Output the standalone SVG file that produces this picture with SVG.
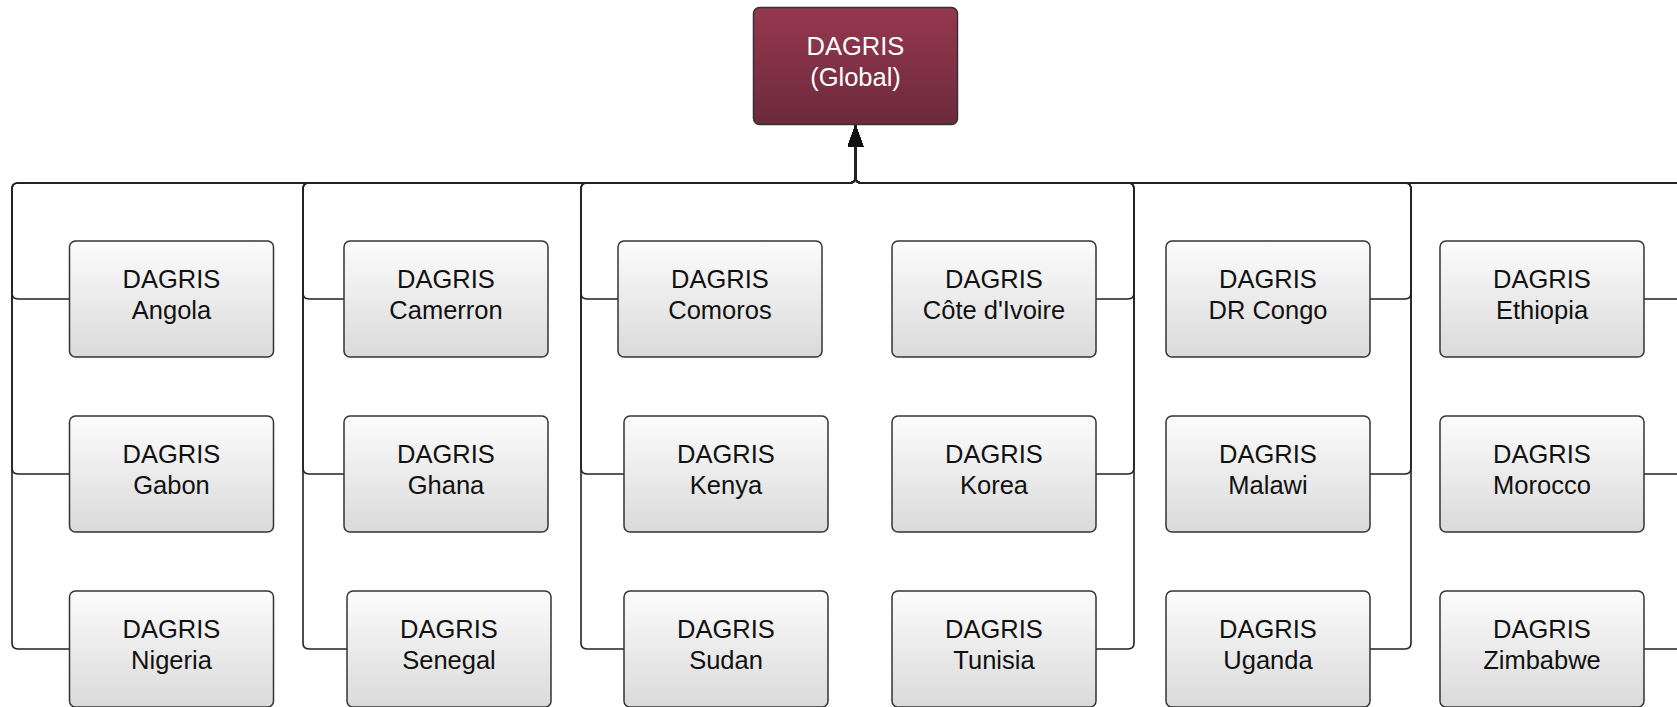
<svg xmlns="http://www.w3.org/2000/svg" width="1677" height="707" viewBox="0 0 1677 707">
<style>
.box{fill:url(#g);stroke:#333;stroke-width:1.5}
.root{fill:url(#r);stroke:#333;stroke-width:1.5}
.t{font-family:"Liberation Sans",Arial,sans-serif;font-size:25.5px;fill:#111;text-anchor:middle}
.w{fill:#fff}
.c{fill:none;stroke:#222;stroke-width:1.6;marker-end:url(#a)}
</style>
<defs>
<linearGradient id="g" x1="0" y1="0" x2="0" y2="1"><stop offset="0" stop-color="#fcfcfc"/><stop offset="1" stop-color="#dadada"/></linearGradient>
<linearGradient id="r" x1="0" y1="0" x2="0" y2="1"><stop offset="0" stop-color="#96384f"/><stop offset="1" stop-color="#6c2a3b"/></linearGradient>
<marker id="a" viewBox="0 0 22 16" refX="22" refY="8" markerWidth="22" markerHeight="16" markerUnits="userSpaceOnUse" orient="auto"><path d="M0,0L22,8L0,16z" fill="#111"/></marker>
</defs>
<g id="connectors">
<path class="c" d="M69.5 299H18Q12 299 12 293V189Q12 183 18 183H849.5Q855.5 183 855.5 177V125"/>
<path class="c" d="M69.5 474H18Q12 474 12 468V189Q12 183 18 183H849.5Q855.5 183 855.5 177V125"/>
<path class="c" d="M69.5 649H18Q12 649 12 643V189Q12 183 18 183H849.5Q855.5 183 855.5 177V125"/>
<path class="c" d="M344 299H309Q303 299 303 293V189Q303 183 309 183H849.5Q855.5 183 855.5 177V125"/>
<path class="c" d="M344 474H309Q303 474 303 468V189Q303 183 309 183H849.5Q855.5 183 855.5 177V125"/>
<path class="c" d="M347 649H309Q303 649 303 643V189Q303 183 309 183H849.5Q855.5 183 855.5 177V125"/>
<path class="c" d="M618 299H587Q581 299 581 293V189Q581 183 587 183H849.5Q855.5 183 855.5 177V125"/>
<path class="c" d="M624 474H587Q581 474 581 468V189Q581 183 587 183H849.5Q855.5 183 855.5 177V125"/>
<path class="c" d="M624 649H587Q581 649 581 643V189Q581 183 587 183H849.5Q855.5 183 855.5 177V125"/>
<path class="c" d="M1096 299H1128Q1134 299 1134 293V189Q1134 183 1128 183H861.5Q855.5 183 855.5 177V125"/>
<path class="c" d="M1096 474H1128Q1134 474 1134 468V189Q1134 183 1128 183H861.5Q855.5 183 855.5 177V125"/>
<path class="c" d="M1096 649H1128Q1134 649 1134 643V189Q1134 183 1128 183H861.5Q855.5 183 855.5 177V125"/>
<path class="c" d="M1370 299H1405Q1411 299 1411 293V189Q1411 183 1405 183H861.5Q855.5 183 855.5 177V125"/>
<path class="c" d="M1370 474H1405Q1411 474 1411 468V189Q1411 183 1405 183H861.5Q855.5 183 855.5 177V125"/>
<path class="c" d="M1370 649H1405Q1411 649 1411 643V189Q1411 183 1405 183H861.5Q855.5 183 855.5 177V125"/>
<path class="c" d="M1644 299H1694Q1700 299 1700 293V189Q1700 183 1694 183H861.5Q855.5 183 855.5 177V125"/>
<path class="c" d="M1644 474H1694Q1700 474 1700 468V189Q1700 183 1694 183H861.5Q855.5 183 855.5 177V125"/>
<path class="c" d="M1644 649H1694Q1700 649 1700 643V189Q1700 183 1694 183H861.5Q855.5 183 855.5 177V125"/>
</g>
<g id="global"><rect class="root" x="753.5" y="7.5" width="204" height="117" rx="6"/><text class="t w" x="855.5" y="54.5">DAGRIS</text><text class="t w" x="855.5" y="86">(Global)</text></g>
<g id="angola"><rect class="box" x="69.5" y="241" width="204" height="116" rx="6"/><text class="t" x="171.5" y="288.3">DAGRIS</text><text class="t" x="171.5" y="319">Angola</text></g>
<g id="gabon"><rect class="box" x="69.5" y="416" width="204" height="116" rx="6"/><text class="t" x="171.5" y="463.3">DAGRIS</text><text class="t" x="171.5" y="494">Gabon</text></g>
<g id="nigeria"><rect class="box" x="69.5" y="591" width="204" height="116" rx="6"/><text class="t" x="171.5" y="638.3">DAGRIS</text><text class="t" x="171.5" y="669">Nigeria</text></g>
<g id="camerron"><rect class="box" x="344" y="241" width="204" height="116" rx="6"/><text class="t" x="446" y="288.3">DAGRIS</text><text class="t" x="446" y="319">Camerron</text></g>
<g id="ghana"><rect class="box" x="344" y="416" width="204" height="116" rx="6"/><text class="t" x="446" y="463.3">DAGRIS</text><text class="t" x="446" y="494">Ghana</text></g>
<g id="senegal"><rect class="box" x="347" y="591" width="204" height="116" rx="6"/><text class="t" x="449" y="638.3">DAGRIS</text><text class="t" x="449" y="669">Senegal</text></g>
<g id="comoros"><rect class="box" x="618" y="241" width="204" height="116" rx="6"/><text class="t" x="720" y="288.3">DAGRIS</text><text class="t" x="720" y="319">Comoros</text></g>
<g id="kenya"><rect class="box" x="624" y="416" width="204" height="116" rx="6"/><text class="t" x="726" y="463.3">DAGRIS</text><text class="t" x="726" y="494">Kenya</text></g>
<g id="sudan"><rect class="box" x="624" y="591" width="204" height="116" rx="6"/><text class="t" x="726" y="638.3">DAGRIS</text><text class="t" x="726" y="669">Sudan</text></g>
<g id="cote-divoire"><rect class="box" x="892" y="241" width="204" height="116" rx="6"/><text class="t" x="994" y="288.3">DAGRIS</text><text class="t" x="994" y="319">Côte d'Ivoire</text></g>
<g id="korea"><rect class="box" x="892" y="416" width="204" height="116" rx="6"/><text class="t" x="994" y="463.3">DAGRIS</text><text class="t" x="994" y="494">Korea</text></g>
<g id="tunisia"><rect class="box" x="892" y="591" width="204" height="116" rx="6"/><text class="t" x="994" y="638.3">DAGRIS</text><text class="t" x="994" y="669">Tunisia</text></g>
<g id="dr-congo"><rect class="box" x="1166" y="241" width="204" height="116" rx="6"/><text class="t" x="1268" y="288.3">DAGRIS</text><text class="t" x="1268" y="319">DR Congo</text></g>
<g id="malawi"><rect class="box" x="1166" y="416" width="204" height="116" rx="6"/><text class="t" x="1268" y="463.3">DAGRIS</text><text class="t" x="1268" y="494">Malawi</text></g>
<g id="uganda"><rect class="box" x="1166" y="591" width="204" height="116" rx="6"/><text class="t" x="1268" y="638.3">DAGRIS</text><text class="t" x="1268" y="669">Uganda</text></g>
<g id="ethiopia"><rect class="box" x="1440" y="241" width="204" height="116" rx="6"/><text class="t" x="1542" y="288.3">DAGRIS</text><text class="t" x="1542" y="319">Ethiopia</text></g>
<g id="morocco"><rect class="box" x="1440" y="416" width="204" height="116" rx="6"/><text class="t" x="1542" y="463.3">DAGRIS</text><text class="t" x="1542" y="494">Morocco</text></g>
<g id="zimbabwe"><rect class="box" x="1440" y="591" width="204" height="116" rx="6"/><text class="t" x="1542" y="638.3">DAGRIS</text><text class="t" x="1542" y="669">Zimbabwe</text></g>
</svg>
